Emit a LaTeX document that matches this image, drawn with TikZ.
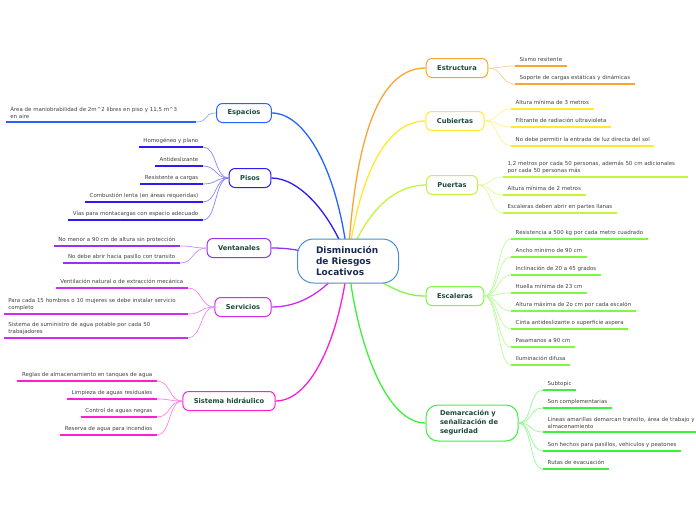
\documentclass[tikz,border=0pt]{standalone}
\usepackage{fontspec}
\setmainfont{DejaVu Sans}
\usetikzlibrary{backgrounds}

\definecolor{cEst}{HTML}{FAA530}
\definecolor{cCub}{HTML}{FFE82E}
\definecolor{cPue}{HTML}{C3F53C}
\definecolor{cEsc}{HTML}{80F743}
\definecolor{cDem}{HTML}{3CF03C}
\definecolor{cEsp}{HTML}{2563FF}
\definecolor{cPis}{HTML}{2D1CF0}
\definecolor{cVen}{HTML}{9333F5}
\definecolor{cSer}{HTML}{D02CF0}
\definecolor{cHid}{HTML}{FF1ED2}
\definecolor{cRoot}{HTML}{4A90D0}
\definecolor{roottext}{HTML}{1B2A55}
\definecolor{branchtext}{HTML}{1B4A3A}
\definecolor{leaftext}{HTML}{404040}

\begin{document}
\begin{tikzpicture}[
    x=1pt, y=-1pt,
    root/.style={draw=cRoot, line width=1pt, fill=white, rounded corners=16pt, minimum width=101pt,
        minimum height=44pt, text width=64pt, align=left, text=roottext, font=\bfseries\fontsize{9}{11}\selectfont},
    branch/.style={draw=#1, line width=1pt, fill=white, rounded corners=6pt, minimum height=19pt,
        inner xsep=11pt, text=branchtext, font=\bfseries\fontsize{6.7}{9}\selectfont},
    leafR/.style={anchor=south west, inner xsep=4.5pt, inner ysep=3pt, text depth=1.2pt, align=left,
        text=leaftext, font=\fontsize{5.45}{7}\selectfont},
    leafL/.style={leafR, anchor=south east},
    twoline/.style={text width=#1, text depth=, inner ysep=3.5pt},
    limb/.style={#1, line width=1.3pt},
    twig/.style={#1!55, line width=0.7pt},
    under/.style={#1, line width=1.4pt}
]
    \useasboundingbox (0,0) rectangle (696,520);

    % Centre and branches
    \node[root] (root) at (348,261) {Disminución\\de Riesgos\\Locativos};
    \node[branch=cEst] (est) at (457,68) {Estructura};
    \node[branch=cCub] (cub) at (455,121) {Cubiertas};
    \node[branch=cPue] (pue) at (452,185) {Puertas};
    \node[branch=cEsc] (esc) at (455,296) {Escaleras};
    \node[branch=cDem, minimum width=92pt, minimum height=36pt, text width=64pt, align=left, rounded corners=12pt,
        font=\bfseries\fontsize{6.7}{9}\selectfont] (dem) at (472,423) {Demarcación y\\señalización de\\seguridad};
    \node[branch=cEsp] (esp) at (244,113) {Espacios};
    \node[branch=cPis] (pis) at (250,178) {Pisos};
    \node[branch=cVen] (ven) at (239,248) {Ventanales};
    \node[branch=cSer] (ser) at (243,307) {Servicios};
    \node[branch=cHid] (hid) at (229,401) {Sistema hidráulico};

    % Main connectors
    \begin{scope}[on background layer]
        \draw[limb=cEst] (root.center) .. controls (356,120) and (385,68) .. (est.west);
        \draw[limb=cCub] (root.center) .. controls (360,170) and (388,121) .. (cub.west);
        \draw[limb=cPue] (root.center) .. controls (364,215) and (392,185) .. (pue.west);
        \draw[limb=cEsc] (root.center) .. controls (392,290) and (405,296) .. (esc.west);
        \draw[limb=cDem] (root.center) .. controls (356,340) and (385,423) .. (dem.west);
        \draw[limb=cEsp] (root.center) .. controls (338,170) and (305,113) .. (esp.east);
        \draw[limb=cPis] (root.center) .. controls (332,215) and (300,178) .. (pis.east);
        \draw[limb=cVen] (root.center) .. controls (300,250) and (290,248) .. (ven.east);
        \draw[limb=cSer] (root.center) .. controls (325,292) and (300,307) .. (ser.east);
        \draw[limb=cHid] (root.center) .. controls (340,335) and (312,401) .. (hid.east);
    \end{scope}

    % Right leaves
    \node[leafR] (e1) at (515,66) {Sismo resitente};
    \node[leafR] (e2) at (515,84) {Soporte de cargas estáticas y dinámicas};

    \node[leafR] (c1) at (511,109) {Altura mínima de 3 metros};
    \node[leafR] (c2) at (511,127) {Filtrante de radiación ultravioleta};
    \node[leafR] (c3) at (511,146) {No debe permitir la entrada de luz directa del sol};

    \node[leafR, twoline=176pt] (p1) at (503,177) {1,2 metros por cada 50 personas, además 50 cm adicionales\\por cada 50 personas más};
    \node[leafR] (p2) at (503,195) {Altura mínima de 2 metros};
    \node[leafR] (p3) at (503,213) {Escaleras deben abrir en partes llanas};

    \node[leafR] (s1) at (511,239) {Resistencia a 500 kg por cada metro cuadrado};
    \node[leafR] (s2) at (511,257) {Ancho mínimo de 90 cm};
    \node[leafR] (s3) at (511,275) {Inclinación de 20 a 45 grados};
    \node[leafR] (s4) at (511,293) {Huella mínima de 23 cm};
    \node[leafR] (s5) at (511,311) {Altura máxima de 2o cm por cada escalón};
    \node[leafR] (s6) at (511,329) {Cinta antideslizante o superficie aspera};
    \node[leafR] (s7) at (511,347) {Pasamanos a 90 cm};
    \node[leafR] (s8) at (511,365) {Iluminación difusa};

    \node[leafR] (d1) at (543,390) {Subtopic};
    \node[leafR] (d2) at (543,408) {Son complementarias};
    \node[leafR, twoline=150pt] (d3) at (543,432) {Lineas amarillas demarcan transito, área de trabajo y\\almacenamiento};
    \node[leafR] (d4) at (543,451) {Son hechos para pasillos, vehiculos y peatones};
    \node[leafR] (d5) at (543,469) {Rutas de evacuación};

    % Left leaves
    \node[leafL, twoline=181pt] (a1) at (196,122) {Área de maniobrabilidad de 2m\^{}2 libres en piso y 11,5 m\^{}3\\en aire};

    \node[leafL] (f1) at (203,147) {Homogéneo y plano};
    \node[leafL] (f2) at (203,166) {Antideslizante};
    \node[leafL] (f3) at (203,184) {Resistente a cargas};
    \node[leafL] (f4) at (203,202) {Combustión lenta (en áreas requeridas)};
    \node[leafL] (f5) at (203,220) {Vías para montacargas con espacio adecuado};

    \node[leafL] (v1) at (180,246) {No menor a 90 cm de altura sin protección};
    \node[leafL] (v2) at (180,263) {No debe abrir hacia pasillo con transito};

    \node[leafL] (r1) at (188,288) {Ventilación natural o de extracción mecánica};
    \node[leafL, twoline=175pt] (r2) at (188,314) {Para cada 15 hombres o 10 mujeres se debe instalar servicio\\completo};
    \node[leafL, twoline=175pt] (r3) at (188,338) {Sistema de suministro de agua potable por cada 50\\trabajadores};

    \node[leafL] (h1) at (157,381) {Reglas de almacenamiento en tanques de agua};
    \node[leafL] (h2) at (157,399) {Limpieza de aguas residuales};
    \node[leafL] (h3) at (157,417) {Control de aguas negras};
    \node[leafL] (h4) at (157,435) {Reserva de agua para incendios};

    % Twigs and underlines
    \foreach \br/\col/\leaves in {est/cEst/{e1,e2}, cub/cCub/{c1,c2,c3}, pue/cPue/{p1,p2,p3},
            esc/cEsc/{s1,s2,s3,s4,s5,s6,s7,s8}, dem/cDem/{d1,d2,d3,d4,d5}} {
        \foreach \n in \leaves {
            \draw[twig=\col] (\br.east) .. controls +(14,0) and +(-14,0) .. (\n.south west);
            \draw[under=\col] (\n.south west) -- (\n.south east);
        }
    }
    \foreach \br/\col/\leaves in {esp/cEsp/{a1}, pis/cPis/{f1,f2,f3,f4,f5}, ven/cVen/{v1,v2},
            ser/cSer/{r1,r2,r3}, hid/cHid/{h1,h2,h3,h4}} {
        \foreach \n in \leaves {
            \draw[twig=\col] (\br.west) .. controls +(-14,0) and +(14,0) .. (\n.south east);
            \draw[under=\col] (\n.south west) -- (\n.south east);
        }
    }
\end{tikzpicture}
\end{document}
